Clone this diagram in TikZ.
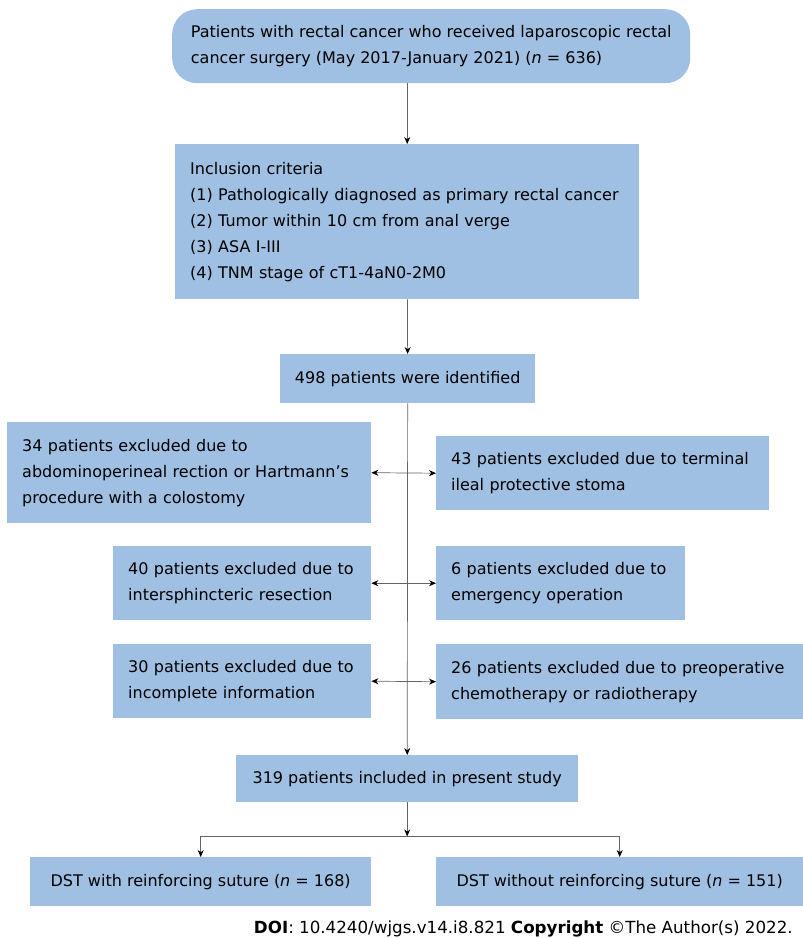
\documentclass[tikz,border=0pt]{standalone}
\usepackage{fontspec}
\setmainfont{DejaVu Sans}
\usetikzlibrary{arrows.meta}
\definecolor{boxblue}{RGB}{159,191,227}
\definecolor{linegray}{RGB}{100,100,100}

\begin{document}
\begin{tikzpicture}[
      x=1pt, y=-1pt,
      every node/.style={font=\fontsize{16}{26}\selectfont},
      box/.style={fill=boxblue, anchor=north west, align=left, inner xsep=15pt, inner ysep=0pt},
      cbox/.style={fill=boxblue, anchor=north west, align=center, inner sep=0pt},
      tip/.style={Stealth[length=7pt, width=6pt, color=black]},
      arr/.style={draw=linegray, line width=0.7pt, -{Stealth[length=7pt, width=6pt, color=black]}},
      both/.style={draw=linegray, line width=0.7pt, {Stealth[length=7pt, width=6pt, color=black]}-{Stealth[length=7pt, width=6pt, color=black]}}
  ]
  \useasboundingbox (0,0) rectangle (803,938);

  % Main column
  \node[cbox, align=left, rounded corners=25pt, minimum width=518pt, minimum height=74pt] (start) at (172,9)
    {Patients with rectal cancer who received laparoscopic rectal\\cancer surgery (May 2017-January 2021) (\textit{n} = 636)};
  \node[box, text width=434pt, minimum height=155pt] (crit) at (175,144)
    {Inclusion criteria\\(1) Pathologically diagnosed as primary rectal cancer\\(2) Tumor within 10 cm from anal verge\\(3) ASA I-III\\(4) TNM stage of cT1-4aN0-2M0};
  \node[cbox, minimum width=255pt, minimum height=49pt] (found) at (280,354) {498 patients were identified};

  % Exclusions
  \node[box, text width=334pt, minimum height=101pt] (exA) at (7,422)
    {34 patients excluded due to\\abdominoperineal rection or Hartmann’s\\procedure with a colostomy};
  \node[box, text width=303pt, minimum height=74pt] (exB) at (436,436)
    {43 patients excluded due to terminal\\ileal protective stoma};
  \node[box, text width=228pt, minimum height=74pt] (exC) at (113,546)
    {40 patients excluded due to\\intersphincteric resection};
  \node[box, text width=219pt, minimum height=74pt] (exD) at (436,546)
    {6 patients excluded due to\\emergency operation};
  \node[box, text width=228pt, minimum height=74pt] (exE) at (113,644)
    {30 patients excluded due to\\incomplete information};
  \node[box, text width=342pt, minimum height=75pt] (exF) at (436,644)
    {26 patients excluded due to preoperative\\chemotherapy or radiotherapy};

  % Study groups
  \node[cbox, minimum width=342pt, minimum height=47pt] (included) at (236,755) {319 patients included in present study};
  \node[cbox, minimum width=341pt, minimum height=49pt] (dstA) at (30,857) {DST with reinforcing suture (\textit{n} = 168)};
  \node[cbox, minimum width=367pt, minimum height=49pt] (dstB) at (436,857) {DST without reinforcing suture (\textit{n} = 151)};

  \node[anchor=base east, inner sep=0pt, font=\fontsize{16.7}{20}\selectfont] (doi) at (793,933)
    {\textbf{DOI}: 10.4240/wjgs.v14.i8.821 \textbf{Copyright} ©The Author(s) 2022.};

  % Connectors
  \draw[arr] (start.south -| crit.north) -- (crit.north);
  \draw[arr] (crit) -- (found);
  \draw[arr] (found) -- (included);
  \draw[both] (exA.east) -- (exB.west);
  \draw[both] (exC.east) -- (exD.west);
  \draw[both] (exE.east) -- (exF.west);
  \draw[arr] (included.south) -- ++(0,34) coordinate (split);
  \draw[draw=linegray, line width=0.7pt] (dstA.north |- split) -- (dstB.north |- split);
  \draw[arr] (dstA.north |- split) -- (dstA.north);
  \draw[arr] (dstB.north |- split) -- (dstB.north);

\end{tikzpicture}
\end{document}
